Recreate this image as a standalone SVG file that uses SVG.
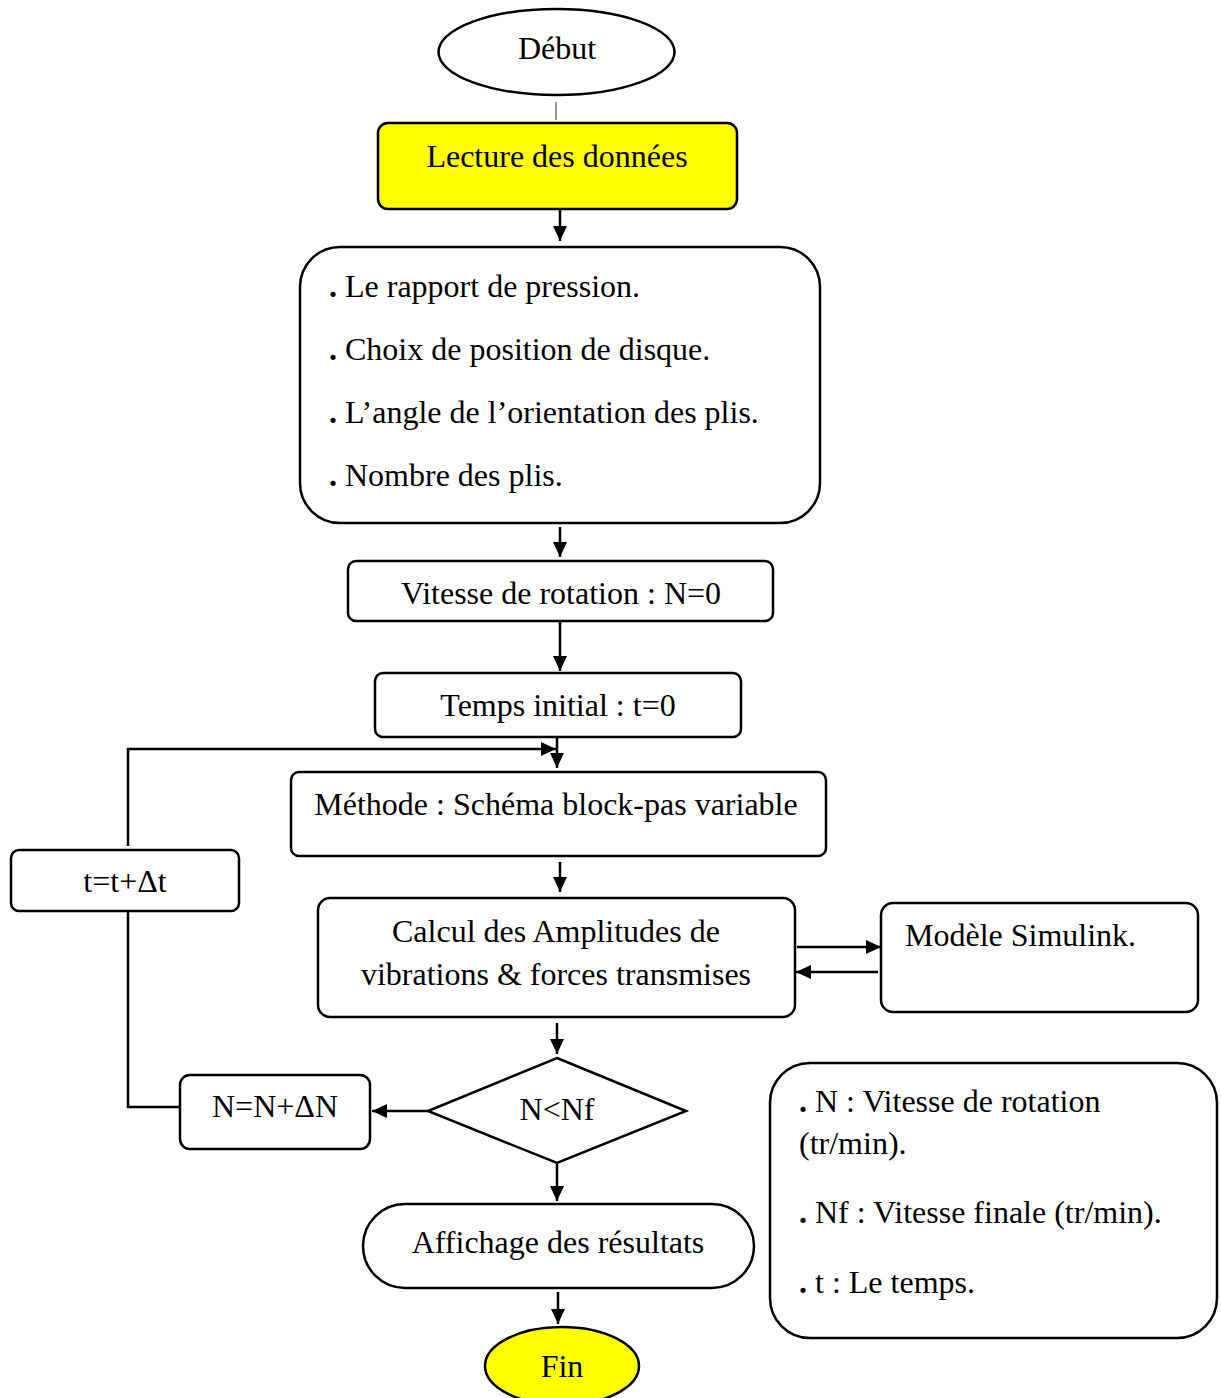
<svg xmlns="http://www.w3.org/2000/svg" width="1221" height="1398" viewBox="0 0 1221 1398">
  <defs>
    <marker id="arrow" viewBox="0 0 10 10" refX="10" refY="5" markerWidth="15" markerHeight="14" markerUnits="userSpaceOnUse" orient="auto" preserveAspectRatio="none">
      <path d="M0,0 L10,5 L0,10 z" fill="#000"/>
    </marker>
    <style>
      .box { fill: #fff; stroke: #000; stroke-width: 2.5; }
      .yellow { fill: #ffff00; stroke: #000; stroke-width: 2.5; }
      .lbl { font-family: "Liberation Serif", "Times New Roman", serif; font-size: 32px; fill: #000; }
      .mid { text-anchor: middle; }
      .dot { font-weight: bold; }
      .wire { fill: none; stroke: #000; stroke-width: 2.5; }
      .flow { fill: none; stroke: #000; stroke-width: 2.5; marker-end: url(#arrow); }
    </style>
  </defs>
  <rect width="1221" height="1398" fill="#fff"/>

  <!-- connectors -->
  <g id="connectors">
    <line x1="556" y1="102" x2="556" y2="120" stroke="#555" stroke-width="1.2"/>
    <line class="flow" x1="560" y1="210" x2="560" y2="241"/>
    <line class="flow" x1="560" y1="527" x2="560" y2="557"/>
    <line class="flow" x1="560" y1="621" x2="560" y2="671"/>
    <line class="flow" x1="557" y1="737" x2="557" y2="768"/>
    <polyline class="flow" points="128,846 128,749 556,749"/>
    <line class="flow" x1="560" y1="862" x2="560" y2="892"/>
    <line class="flow" x1="797" y1="947" x2="881" y2="947"/>
    <line class="flow" x1="878" y1="972" x2="796" y2="972"/>
    <line class="flow" x1="557" y1="1023" x2="557" y2="1054"/>
    <line class="flow" x1="428" y1="1111" x2="372" y2="1111"/>
    <polyline class="wire" points="180,1107 128,1107 128,912"/>
    <line class="flow" x1="557" y1="1163" x2="557" y2="1201"/>
    <line class="flow" x1="558" y1="1292" x2="558" y2="1324"/>
  </g>

  <!-- start -->
  <g id="debut">
    <ellipse class="box" cx="556.5" cy="52" rx="118" ry="43"/>
    <text class="lbl mid" x="557" y="59">Début</text>
  </g>

  <!-- data input -->
  <g id="lecture">
    <rect class="yellow" x="378" y="123" width="359" height="86" rx="10"/>
    <text class="lbl mid" x="557" y="167">Lecture des données</text>
  </g>

  <!-- parameters -->
  <g id="parametres">
    <rect class="box" x="300" y="247" width="520" height="276" rx="40"/>
    <text class="lbl" x="329" y="297"><tspan class="dot">.</tspan> Le rapport de pression.</text>
    <text class="lbl" x="329" y="360"><tspan class="dot">.</tspan> Choix de position de disque.</text>
    <text class="lbl" x="329" y="423"><tspan class="dot">.</tspan> L’angle de l’orientation des plis.</text>
    <text class="lbl" x="329" y="486"><tspan class="dot">.</tspan> Nombre des plis.</text>
  </g>

  <g id="vitesse">
    <rect class="box" x="348" y="561" width="425" height="60" rx="8"/>
    <text class="lbl mid" x="561" y="604">Vitesse de rotation : N=0</text>
  </g>

  <g id="temps">
    <rect class="box" x="375" y="673" width="366" height="64" rx="8"/>
    <text class="lbl mid" x="558" y="716">Temps initial : t=0</text>
  </g>

  <g id="methode">
    <rect class="box" x="291" y="772" width="535" height="84" rx="8"/>
    <text class="lbl mid" x="556" y="815">Méthode : Schéma block-pas variable</text>
  </g>

  <g id="calcul">
    <rect class="box" x="318" y="898" width="477" height="119" rx="12"/>
    <text class="lbl mid" x="556" y="942">Calcul des Amplitudes de</text>
    <text class="lbl mid" x="556" y="985">vibrations &amp; forces transmises</text>
  </g>

  <g id="simulink">
    <rect class="box" x="881" y="903" width="317" height="109" rx="12"/>
    <text class="lbl" x="905" y="946">Modèle Simulink.</text>
  </g>

  <g id="increment-t">
    <rect class="box" x="11" y="850" width="228" height="61" rx="8"/>
    <text class="lbl mid" x="125" y="892">t=t+Δt</text>
  </g>

  <g id="test">
    <polygon class="box" points="557,1058 686,1111 557,1163 428,1111"/>
    <text class="lbl mid" x="557" y="1120">N&lt;Nf</text>
  </g>

  <g id="increment-n">
    <rect class="box" x="180" y="1075" width="190" height="74" rx="10"/>
    <text class="lbl mid" x="275" y="1117">N=N+ΔN</text>
  </g>

  <g id="affichage">
    <rect class="box" x="363" y="1204" width="391" height="84" rx="42"/>
    <text class="lbl mid" x="558" y="1253">Affichage des résultats</text>
  </g>

  <g id="fin">
    <ellipse class="yellow" cx="562" cy="1366" rx="77" ry="39"/>
    <text class="lbl mid" x="562" y="1377">Fin</text>
  </g>

  <!-- legend -->
  <g id="legende">
    <rect class="box" x="770" y="1063" width="447" height="275" rx="40"/>
    <text class="lbl" x="799" y="1112"><tspan class="dot">.</tspan> N : Vitesse de rotation</text>
    <text class="lbl" x="799" y="1154">(tr/min).</text>
    <text class="lbl" x="799" y="1223"><tspan class="dot">.</tspan> Nf : Vitesse finale (tr/min).</text>
    <text class="lbl" x="799" y="1293"><tspan class="dot">.</tspan> t : Le temps.</text>
  </g>
</svg>
